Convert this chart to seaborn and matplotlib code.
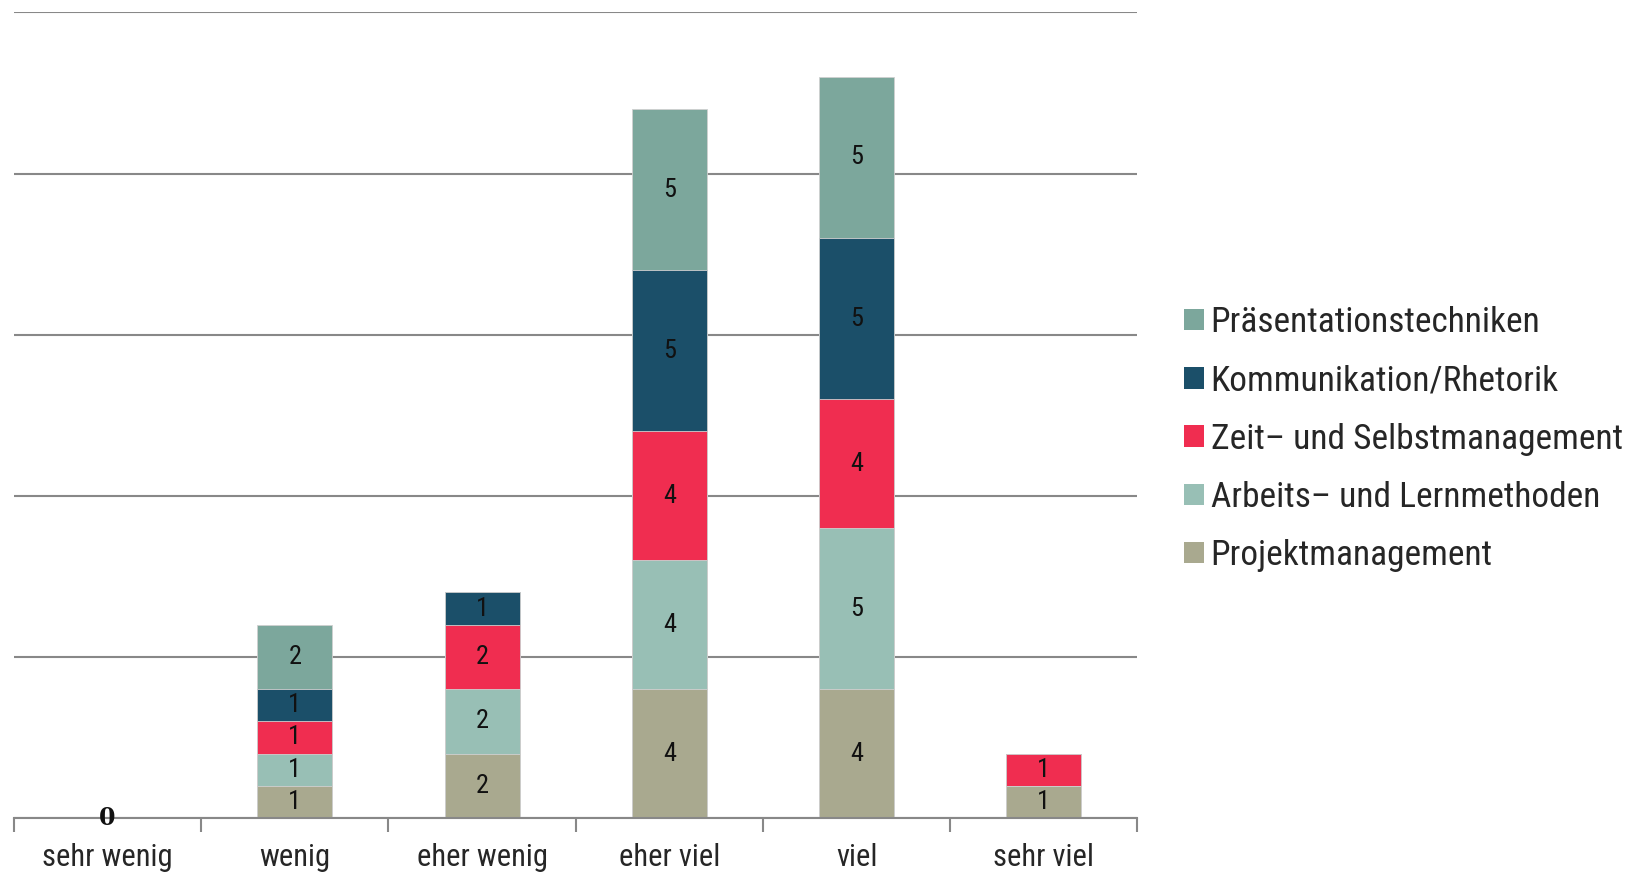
import numpy as np
import pandas as pd
import matplotlib
matplotlib.use("Agg")
import matplotlib.pyplot as plt
import seaborn as sns
from matplotlib.patches import Patch

categories = ["sehr wenig", "wenig", "eher wenig", "eher viel", "viel", "sehr viel"]
series = ["Projektmanagement", "Arbeits– und Lernmethoden", "Zeit– und Selbstmanagement",
          "Kommunikation/Rhetorik", "Präsentationstechniken"]
projekt = [0, 1, 2, 4, 4, 1]
arbeits = [0, 1, 2, 4, 5, 0]
zeit = [0, 1, 2, 4, 4, 1]
kommunikation = [0, 1, 1, 5, 5, 0]
praesentation = [0, 2, 0, 5, 5, 0]
colors = ["#A9A98F", "#98BFB5", "#F02D50", "#1B4F69", "#7CA79C"]

sns.set_theme(style="white")
FONT = ["Roboto Condensed", "IBM Plex Sans Condensed", "DejaVu Sans"]
plt.rcParams["font.family"] = FONT

values = np.array([projekt, arbeits, zeit, kommunikation, praesentation], dtype=float)
cum = np.cumsum(values, axis=0)

fig = plt.figure(figsize=(16.39, 8.73), dpi=100)
ax = fig.add_axes([0.0085, 0.063, 0.6855, 0.9227])

# draw cumulative bars from top layer down so lower layers overlay
for i in range(len(series) - 1, -1, -1):
    df = pd.DataFrame({"cat": categories, "val": cum[i]})
    sns.barplot(data=df, x="cat", y="val", order=categories, color=colors[i],
                width=0.4, edgecolor="#d0d0d0", linewidth=0.6, ax=ax,
                saturation=1, zorder=3)

# segment labels
for i in range(len(series)):
    for j in range(len(categories)):
        v = values[i, j]
        if v > 0:
            mid = cum[i, j] - v / 2
            ax.text(j, mid, f"{int(v)}", ha="center", va="center",
                    fontsize=19, color="#111111", zorder=5)
# zero label for empty category
for j in range(len(categories)):
    if cum[-1, j] == 0:
        ax.text(j, 0, "0", ha="center", va="center", fontsize=17,
                fontweight="bold", family="DejaVu Serif", color="#111111", zorder=5)

ax.set_xlim(-0.5, len(categories) - 0.5)
ax.set_ylim(0, 25)
ax.set_yticks([0, 5, 10, 15, 20, 25])
ax.set_yticklabels([])
ax.yaxis.grid(True, color="#888888", linewidth=1.5)
ax.set_axisbelow(True)
ax.tick_params(axis="y", length=0)
for s in ["left", "right", "top"]:
    ax.spines[s].set_visible(False)
ax.spines["bottom"].set_color("#888888")
ax.spines["bottom"].set_linewidth(1.5)
ax.spines["bottom"].set_zorder(4)

ax.set_xticks(np.arange(-0.5, len(categories), 1.0), minor=False)
ax.set_xticklabels([])
ax.tick_params(axis="x", which="major", length=10, width=1.5, color="#888888",
               direction="out", bottom=True)
ax.set_xticks(np.arange(len(categories)), minor=True)
ax.set_xticklabels(categories, minor=True, fontsize=22, family=FONT)
ax.tick_params(axis="x", which="minor", length=0, pad=18)
ax.set_xlabel("")
ax.set_ylabel("")

handles = [Patch(facecolor=colors[i], edgecolor="none") for i in range(len(series) - 1, -1, -1)]
labels = [series[i] for i in range(len(series) - 1, -1, -1)]
fig.legend(handles, labels, loc="center left", bbox_to_anchor=(0.703, 0.497),
           frameon=False, handlelength=0.55, handleheight=0.55,
           handletextpad=0.2, labelspacing=0.71, prop={"family": FONT, "size": 25.5})

fig.savefig("out.png", dpi=100)
